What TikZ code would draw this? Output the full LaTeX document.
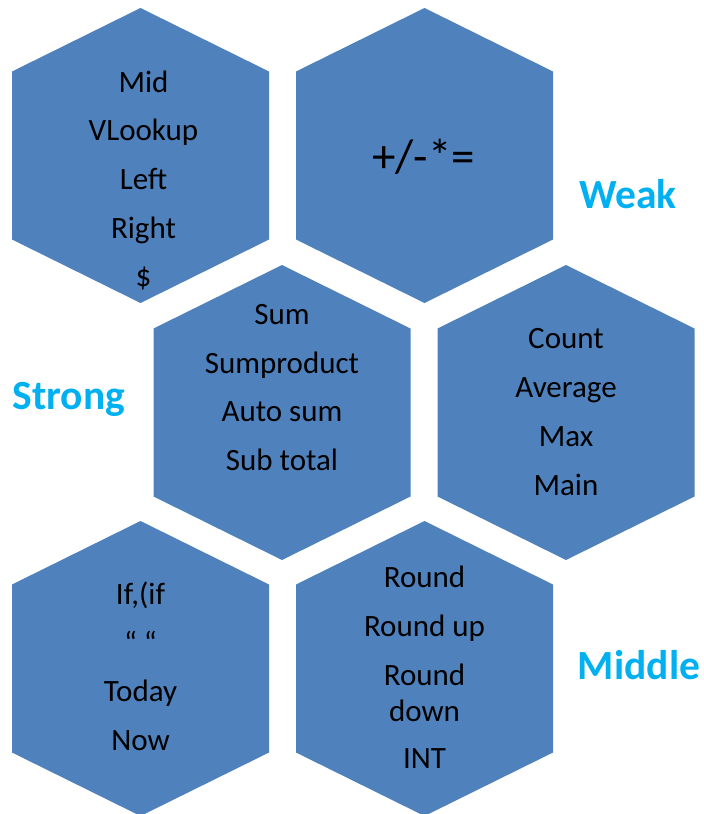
\documentclass[tikz,border=0pt]{standalone}
\usepackage{fontspec}
\setmainfont{Carlito}
\usetikzlibrary{calc}

\definecolor{hexblue}{RGB}{79,129,189}
\definecolor{tagcyan}{RGB}{0,176,240}

\tikzset{
  hexa/.style={fill=hexblue},
  item/.style={inner sep=0pt, text height=19.6pt, text depth=0pt, font=\fontsize{31}{37}\selectfont},
  tag/.style={inner sep=0pt, text height=26.2pt, text depth=0pt, text=tagcyan, font=\fontsize{41.5}{50}\selectfont\bfseries},
}

\begin{document}
\begin{tikzpicture}[x=1pt, y=-1pt]
\useasboundingbox (0,0) rectangle (704,814);
% hexagons
\foreach \n/\x/\y in {h1/140.5/155.5, h2/424.5/155.5, h3/282/412.5, h4/566/412.5, h5/140.5/668.5, h6/424.5/668.5} {
 \coordinate (\n) at (\x,\y);
 \fill[hexa] (\n) ++(0,-147.5) -- ++(128.5,63.5) -- ++(0,168) -- ++(-128.5,63.5) -- ++(-128.5,-63.5) -- ++(0,-168) -- cycle;
}
% texts in the hexagons
\foreach \t [count=\i] in {Mid,VLookup,Left,Right,\$} {
 \node[item] (mid-\i) at (143.5,{82.5+48.6*(\i-1)}) {\t};
}
\node[font=\fontsize{47}{56}\selectfont, anchor=base] (ops) at (423.5,172) {+/-*=};
\foreach \t [count=\i] in {Sum,Sumproduct,Auto sum,Sub total} {
 \node[item] (sum-\i) at (282,{314.5+48.8*(\i-1)}) {\t};
}
\foreach \t [count=\i] in {Count,Average,Max,Main} {
 \node[item] (count-\i) at (566,{338.5+48.9*(\i-1)}) {\t};
}
\foreach \t [count=\i] in {{If,(if},“ “,Today,Now} {
 \node[item] (if-\i) at (140.5,{594.5+48.8*(\i-1)}) {\t};
}
\foreach \t/\y [count=\i] in {Round/577.5, Round up/626.7, Round/675.3, down/711.3, INT/759} {
 \node[item] (round-\i) at (424.5,\y) {\t};
}
% labels
\node[tag] (weak) at (627.8,195.8) {Weak};
\node[tag] (strong) at (68.8,396.2) {Strong};
\node[tag] (middle) at (639,666.2) {Middle};
\end{tikzpicture}
\end{document}
